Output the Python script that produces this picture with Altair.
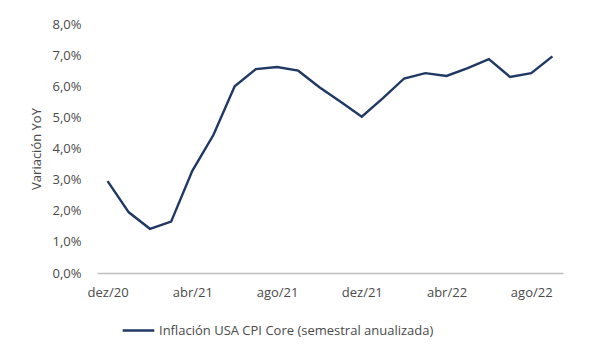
import altair as alt
import pandas as pd

meses = ["dez/20", "jan/21", "fev/21", "mar/21", "abr/21", "mai/21", "jun/21",
         "jul/21", "ago/21", "set/21", "out/21", "nov/21", "dez/21", "jan/22",
         "fev/22", "mar/22", "abr/22", "mai/22", "jun/22", "jul/22", "ago/22", "set/22"]
valores = [2.95, 1.95, 1.42, 1.65, 3.28, 4.44, 6.0, 6.55, 6.62, 6.5, 5.97, 5.5,
           5.02, 5.62, 6.25, 6.42, 6.33, 6.58, 6.87, 6.3, 6.42, 6.96]
etiquetas_x = ["dez/20", "abr/21", "ago/21", "dez/21", "abr/22", "ago/22"]
serie = "Inflación USA CPI Core (semestral anualizada)"

df = pd.DataFrame({"mes": meses, "valor": valores, "serie": serie})

FONT = "Open Sans"
GRAY = "#4a4a4a"
FS = 13

chart = alt.Chart(df).mark_line(strokeWidth=2.4).encode(
    x=alt.X("mes:N", sort=meses, title=None,
            scale=alt.Scale(type="point", padding=0.5),
            axis=alt.Axis(values=etiquetas_x, labelAngle=0, ticks=False,
                          domainColor="#BFBFBF", domainWidth=1.5,
                          labelPadding=13, labelFontSize=FS, labelFont=FONT,
                          labelColor=GRAY)),
    y=alt.Y("valor:Q", title="Variación YoY",
            scale=alt.Scale(domain=[0, 8], nice=False),
            axis=alt.Axis(values=[0, 1, 2, 3, 4, 5, 6, 7, 8], domain=False,
                          ticks=False, grid=False,
                          labelExpr="replace(format(datum.value, '.1f'), '.', ',') + '%'",
                          labelPadding=16, labelFontSize=FS, labelFont=FONT,
                          labelColor=GRAY, titleFont=FONT, titleFontSize=FS,
                          titleFontWeight="normal", titleColor=GRAY,
                          titlePadding=9)),
    color=alt.Color("serie:N", scale=alt.Scale(range=["#1F3864"]),
                    legend=alt.Legend(title=None, orient="none", legendX=24,
                                      legendY=289, symbolType="stroke",
                                      symbolSize=1000, symbolStrokeWidth=2.4,
                                      labelFont=FONT, labelFontSize=FS,
                                      labelColor=GRAY, labelOffset=3,
                                      labelLimit=0)),
).properties(
    width=466, height=249,
    autosize=alt.AutoSizeParams(type="none"),
    padding={"left": 89, "top": 16, "right": 40, "bottom": 70},
).configure_view(stroke=None)

chart.save("out.html", embed_options={"renderer": "svg", "actions": False})
